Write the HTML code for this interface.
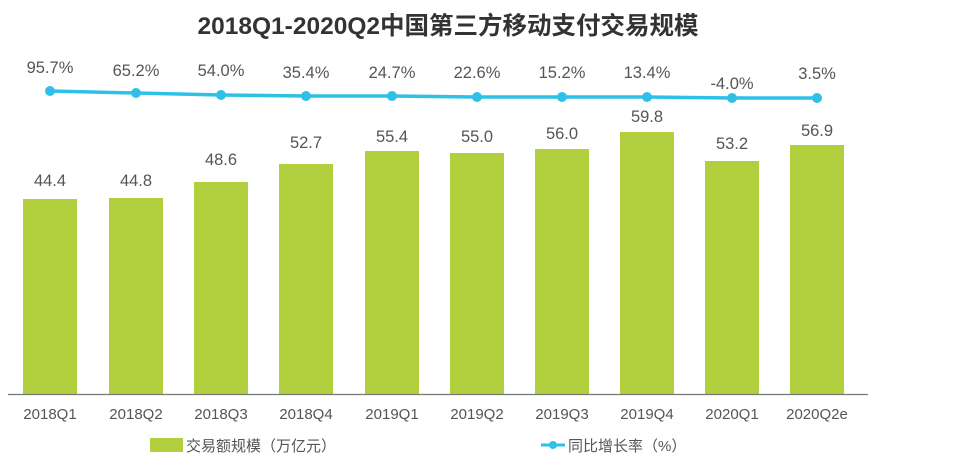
<!DOCTYPE html>
<html><head><meta charset="utf-8"><style>
body{margin:0;background:#fff}
svg{display:block}
text{font-family:"Liberation Sans","Noto Sans CJK SC",sans-serif;fill:#555}
</style></head><body>
<svg width="960" height="458" viewBox="0 0 960 458">
<text x="448" y="34" text-anchor="middle" font-size="24.5" font-weight="bold" style="fill:#333">2018Q1-2020Q2中国第三方移动支付交易规模</text>
<g fill="#b2cf3e">
<rect x="23" y="199" width="54" height="195"/>
<rect x="109" y="198" width="54" height="196"/>
<rect x="194" y="182" width="54" height="212"/>
<rect x="279" y="164" width="54" height="230"/>
<rect x="365" y="151" width="54" height="243"/>
<rect x="450" y="153" width="54" height="241"/>
<rect x="535" y="149" width="54" height="245"/>
<rect x="620" y="132" width="54" height="262"/>
<rect x="705" y="161" width="54" height="233"/>
<rect x="790" y="145" width="54" height="249"/>
</g>
<line x1="8" y1="394.5" x2="868" y2="394.5" stroke="#777" stroke-width="1.2"/>
<g font-size="16.5" text-anchor="middle">
<text x="50" y="186">44.4</text><text x="136" y="186">44.8</text><text x="221" y="165">48.6</text>
<text x="306" y="148">52.7</text><text x="392" y="142">55.4</text><text x="477" y="142">55.0</text>
<text x="562" y="139">56.0</text><text x="647" y="122">59.8</text><text x="732" y="149">53.2</text>
<text x="817" y="136">56.9</text>
<text x="50" y="73">95.7%</text><text x="136" y="76">65.2%</text><text x="221" y="76">54.0%</text>
<text x="306" y="78">35.4%</text><text x="392" y="78">24.7%</text><text x="477" y="78">22.6%</text>
<text x="562" y="78">15.2%</text><text x="647" y="78">13.4%</text><text x="732" y="89">-4.0%</text>
<text x="817" y="79">3.5%</text>
</g>
<polyline fill="none" stroke="#2fc0e8" stroke-width="3.5" points="50,91 136,93 221,95 306,96 392,96 477,97 562,97 647,97 732,98 817,98"/>
<g fill="#2fc0e8">
<circle cx="50" cy="91" r="5"/><circle cx="136" cy="93" r="5"/><circle cx="221" cy="95" r="5"/>
<circle cx="306" cy="96" r="5"/><circle cx="392" cy="96" r="5"/><circle cx="477" cy="97" r="5"/>
<circle cx="562" cy="97" r="5"/><circle cx="647" cy="97" r="5"/><circle cx="732" cy="98" r="5"/>
<circle cx="817" cy="98" r="5"/>
</g>
<g font-size="15" text-anchor="middle">
<text x="50" y="419">2018Q1</text><text x="136" y="419">2018Q2</text><text x="221" y="419">2018Q3</text>
<text x="306" y="419">2018Q4</text><text x="392" y="419">2019Q1</text><text x="477" y="419">2019Q2</text>
<text x="562" y="419">2019Q3</text><text x="647" y="419">2019Q4</text><text x="732" y="419">2020Q1</text>
<text x="817" y="419">2020Q2e</text>
</g>
<rect x="150" y="438" width="33" height="14" fill="#b2cf3e"/>
<text x="186" y="451" font-size="15">交易额规模（万亿元）</text>
<line x1="541" y1="445" x2="565" y2="445" stroke="#2fc0e8" stroke-width="3"/>
<circle cx="553" cy="445" r="4" fill="#2fc0e8"/>
<text x="568" y="451" font-size="15">同比增长率（%）</text>
</svg>
</body></html>
